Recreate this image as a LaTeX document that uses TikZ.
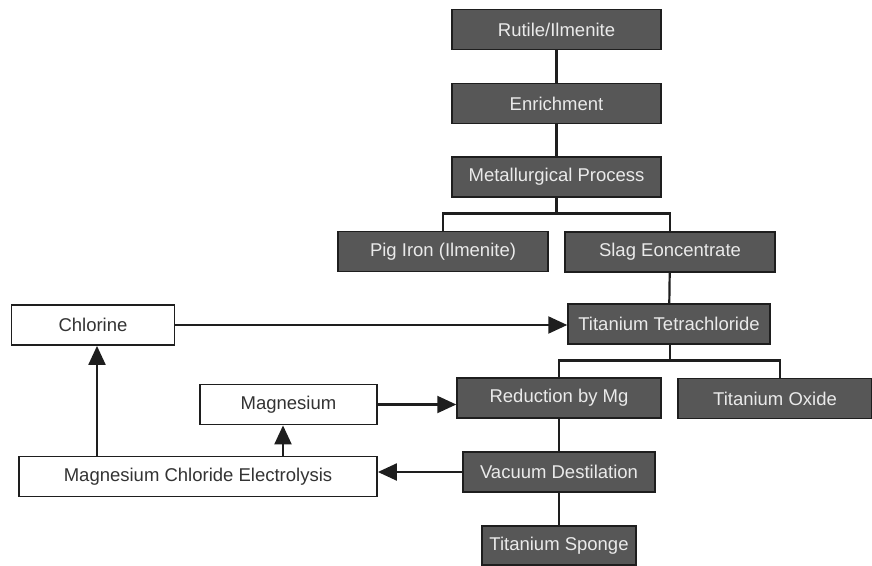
\documentclass[tikz,border=0pt]{standalone}
\usepackage{fontspec}
\setmainfont{Liberation Sans}
\usetikzlibrary{arrows.meta}
\definecolor{boxfill}{HTML}{575757}
\definecolor{boxtext}{HTML}{EAEAEA}
\definecolor{linecol}{HTML}{1E1E1E}
\begin{document}
\begin{tikzpicture}[x=1pt,y=-1pt,
  darkbox/.style={draw=linecol,line width=1.5pt,fill=boxfill,text=boxtext,
    minimum height=40pt,inner sep=0pt,font=\fontsize{18.5}{20}\selectfont},
  whitebox/.style={draw=linecol,line width=1.8pt,fill=white,text=black!80,
    minimum height=40pt,inner sep=0pt,font=\fontsize{18.5}{20}\selectfont},
  conn/.style={draw=linecol,line width=2.2pt},
  arr/.style={conn,-{Triangle[length=19pt,width=17pt]}}]
\useasboundingbox[fill=white] (0,0) rectangle (872,565);

\node[darkbox,minimum width=209pt] (rut) at (556.5,29.5) {Rutile/Ilmenite};
\node[darkbox,minimum width=209pt] (enr) at (556.5,103.5) {Enrichment};
\node[darkbox,minimum width=209pt] (met) at (556.5,177) {Metallurgical Process};
\node[darkbox,minimum width=210pt] (pig) at (443,251.5) {Pig Iron (Ilmenite)};
\node[darkbox,minimum width=210pt] (slag) at (670,252) {Slag Eoncentrate};
\node[darkbox,minimum width=202pt] (ticl) at (669,324) {Titanium Tetrachloride};
\node[whitebox,minimum width=163pt] (chl) at (93,325) {Chlorine};
\node[darkbox,minimum width=204pt] (red) at (559,398) {Reduction by Mg};
\node[darkbox,minimum width=194pt] (tiox) at (775,398.5) {Titanium Oxide};
\node[whitebox,minimum width=177pt] (mag) at (288.5,404.5) {Magnesium};
\node[darkbox,minimum width=192pt] (vac) at (559,472) {Vacuum Destilation};
\node[whitebox,minimum width=358pt] (mce) at (198,476.5) {Magnesium Chloride Electrolysis};
\node[darkbox,minimum width=154pt,minimum height=39pt] (spo) at (559,545.5) {Titanium Sponge};

\coordinate (b1) at (556.5,213.5);
\coordinate (b2) at (670,360.5);
\coordinate (oxtop) at (780,378.5);

\draw[conn] (rut) -- (enr);
\draw[conn] (enr) -- (met);
\draw[conn] (met.south) -- (b1);
\draw[conn] (pig.north) |- (b1) -| (slag.north);
\draw[conn] (slag) -- (ticl);
\draw[conn] (ticl.south -| b2) -- (b2);
\draw[conn] (red.north) |- (b2) -| (oxtop);
\draw[conn] (red) -- (vac);
\draw[conn] (vac) -- (spo);

\draw[arr] (chl.east) -- (chl.east -| ticl.west);
\draw[arr] (mag.east) -- (mag.east -| red.west);
\draw[arr] (vac.west) -- (vac.west -| mce.east);
\draw[arr] (mce.north -| 97,0) -- (chl.south -| 97,0);
\draw[arr] (mce.north -| 283,0) -- (mag.south -| 283,0);
\end{tikzpicture}
\end{document}
